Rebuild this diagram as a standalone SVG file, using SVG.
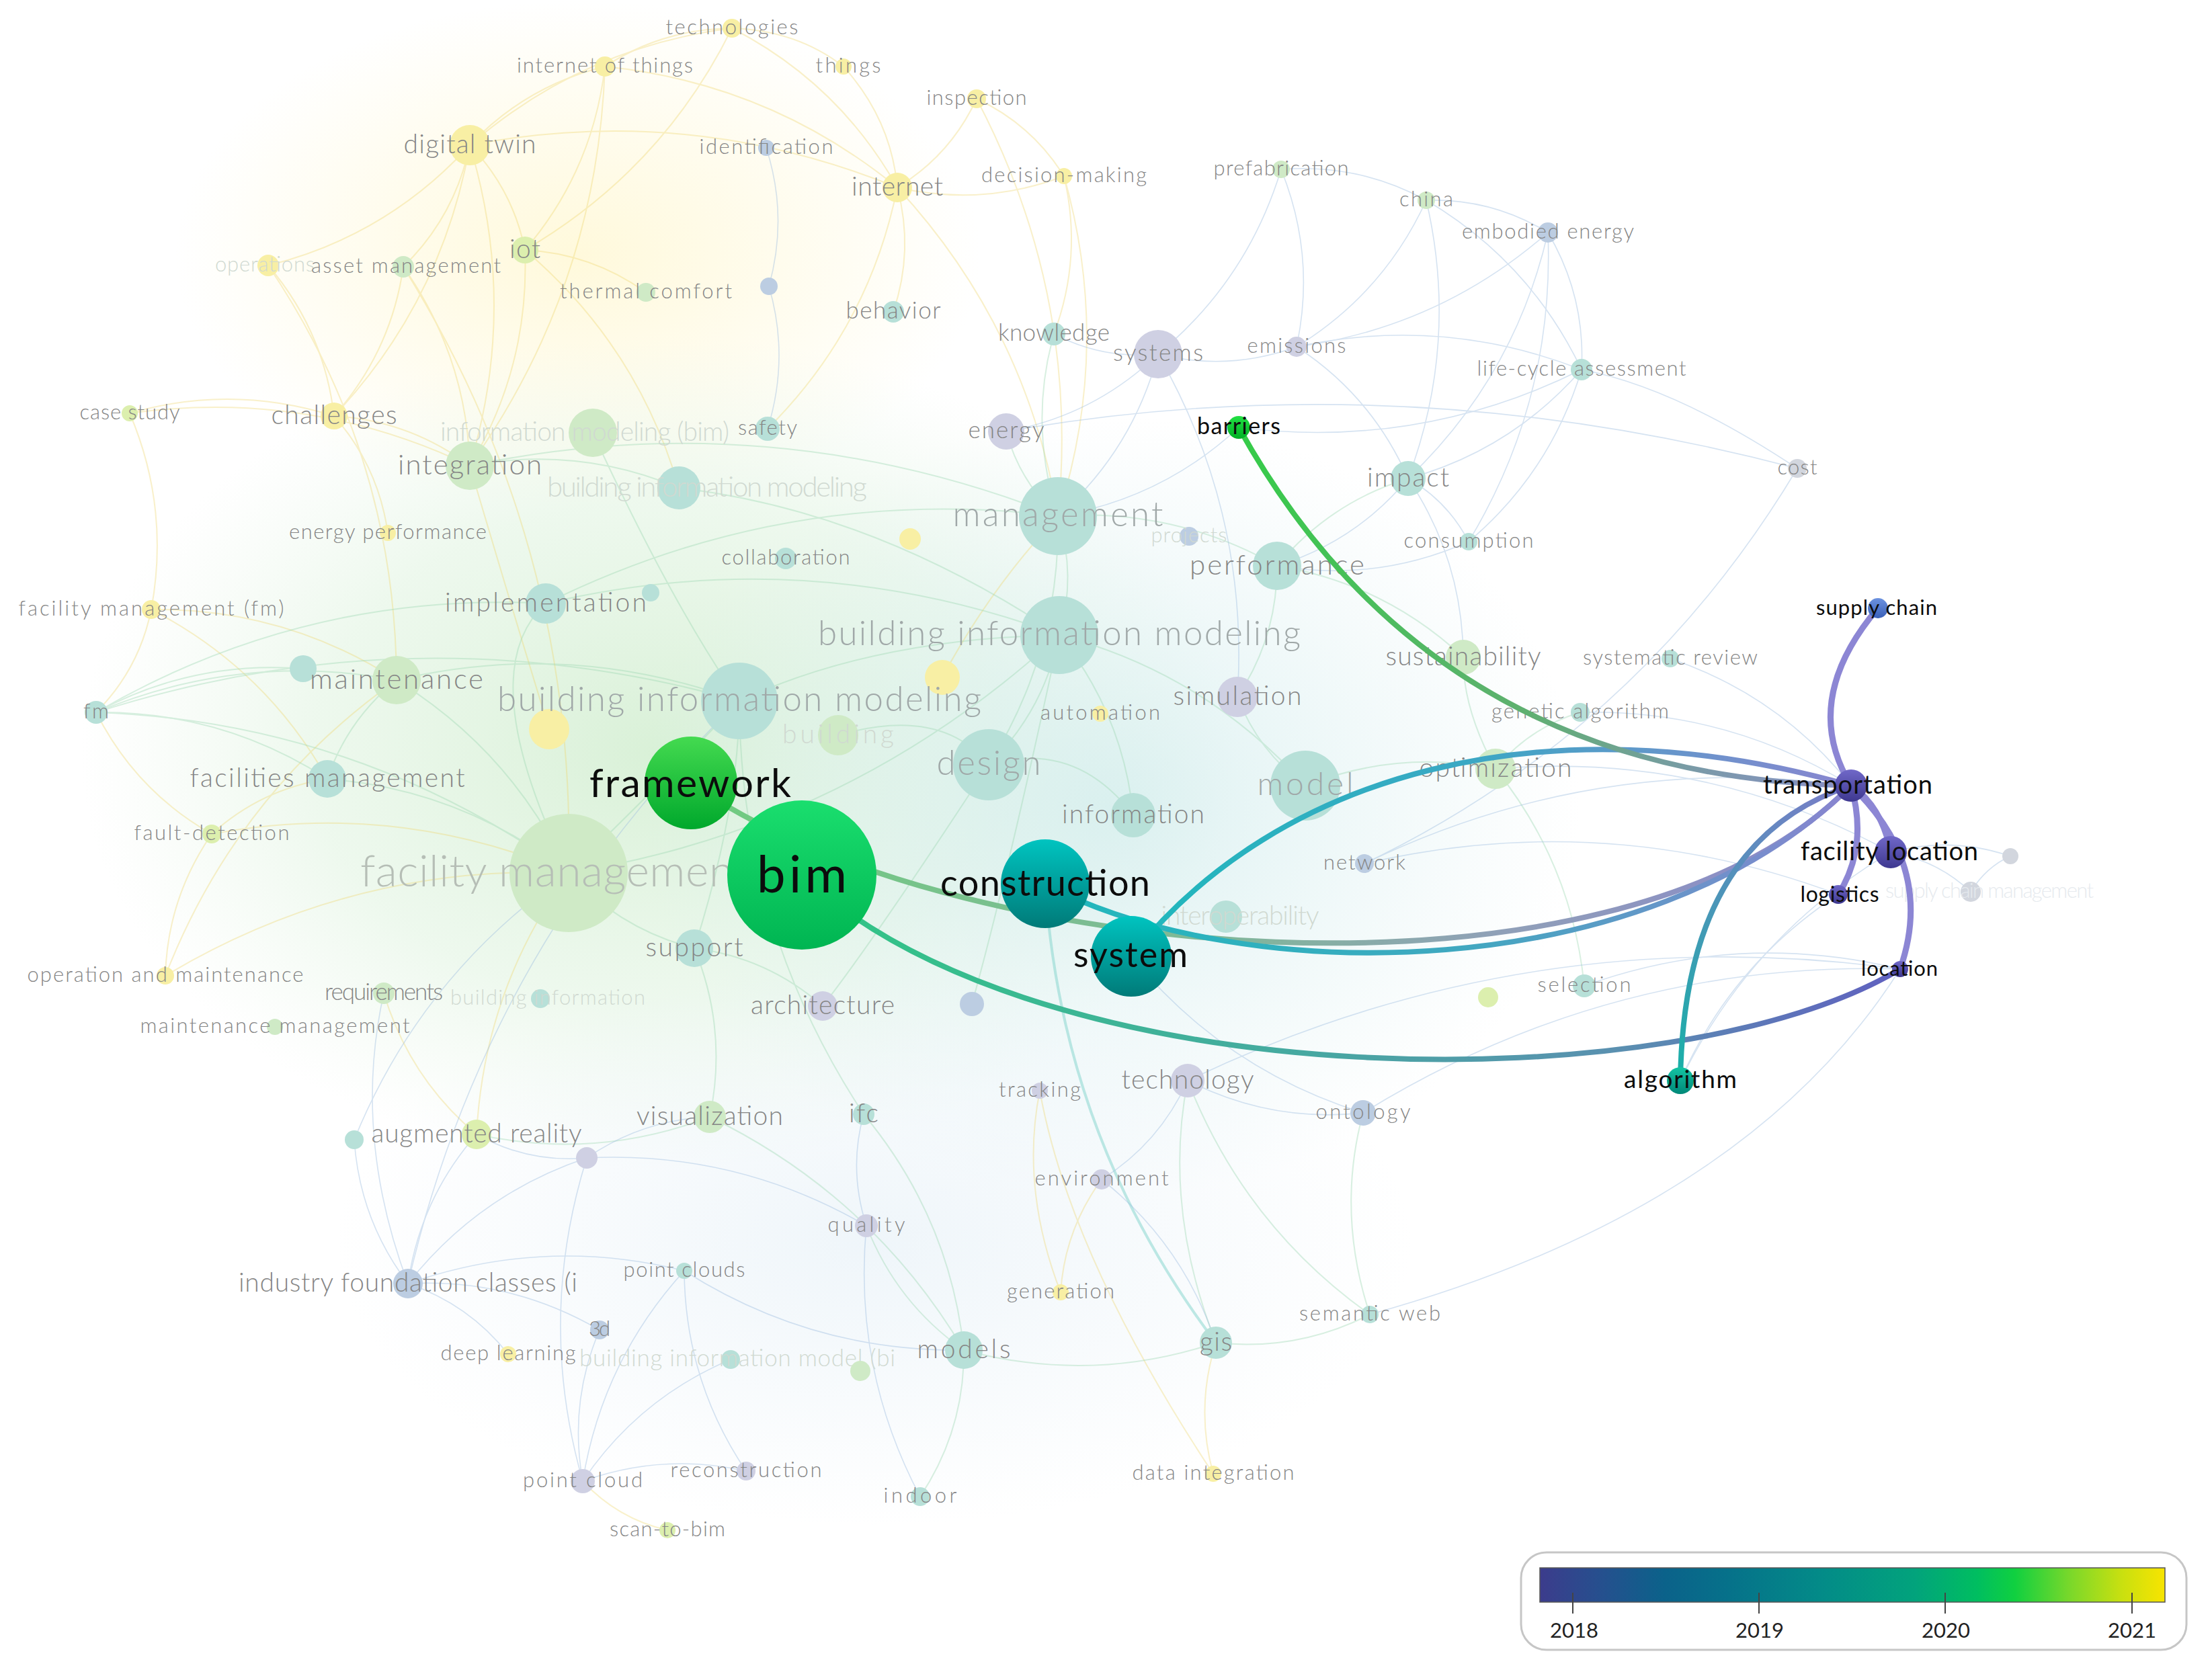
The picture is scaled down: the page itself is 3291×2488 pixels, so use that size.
<svg xmlns="http://www.w3.org/2000/svg" width="3291" height="2488" viewBox="0 0 3291 2488">
<defs>
<style>
.lb{font-family:Lato,"Liberation Sans",sans-serif;font-weight:300;fill:#858585;text-anchor:middle}
.lg{fill:#a0a8a8}
.lf{fill:#d0d9d1}
.lx{fill:#e6eaee}
.hl{font-family:Lato,"Liberation Sans",sans-serif;fill:#0c0c0c;text-anchor:middle}
.t1{font-size:31px}.t2{font-size:35px}.t3{font-size:39px}.t4{font-size:42px}.t5{font-size:51px}
.ny{fill:#f8efa4}.nyg{fill:#dcefae}.ng{fill:#cfeac6}.nt{fill:#b7e0d8}.np{fill:#cfd0e3}.nb{fill:#bccde2}.ngr{fill:#d2d6de}
.ey{fill:none;stroke:#efd66a;stroke-width:2;opacity:.35}
.eg{fill:none;stroke:#9fd9b4;stroke-width:2;opacity:.4}
.eb{fill:none;stroke:#9dbde0;stroke-width:1.6;opacity:.42}
.et{fill:none;stroke:#7fd3cc;stroke-width:4;opacity:.5}
.h{fill:none;stroke-width:8;stroke-linecap:round}
.hp{fill:none;stroke:#8c86d4;stroke-width:9;stroke-linecap:round}
.yr{font-family:Lato,"Liberation Sans",sans-serif;font-size:31px;fill:#222;text-anchor:middle}
</style>
<radialGradient id="wY"><stop offset="0" stop-color="#fff3b8" stop-opacity=".5"/><stop offset="1" stop-color="#fff3b8" stop-opacity="0"/></radialGradient>
<radialGradient id="wG"><stop offset="0" stop-color="#d2eed0" stop-opacity=".85"/><stop offset=".6" stop-color="#dcf2dc" stop-opacity=".5"/><stop offset="1" stop-color="#e4f4e4" stop-opacity="0"/></radialGradient>
<radialGradient id="wT"><stop offset="0" stop-color="#d0ecec" stop-opacity=".75"/><stop offset="1" stop-color="#d8eef0" stop-opacity="0"/></radialGradient>
<radialGradient id="wB"><stop offset="0" stop-color="#e2eef6" stop-opacity=".55"/><stop offset="1" stop-color="#e2eef6" stop-opacity="0"/></radialGradient>
<linearGradient id="gBim" x1="0" y1="0" x2="0" y2="1"><stop offset="0" stop-color="#1ade6e"/><stop offset="1" stop-color="#00b552"/></linearGradient>
<linearGradient id="gFw" x1="0" y1="0" x2="0" y2="1"><stop offset="0" stop-color="#44da50"/><stop offset="1" stop-color="#00a82c"/></linearGradient>
<linearGradient id="gCon" x1="0" y1="0" x2="0" y2="1"><stop offset="0" stop-color="#00c4c0"/><stop offset="1" stop-color="#007a78"/></linearGradient>
<linearGradient id="gBar" x1="0" y1="0" x2="0" y2="1"><stop offset="0" stop-color="#22e044"/><stop offset="1" stop-color="#00b024"/></linearGradient>
<linearGradient id="gPur" x1="0" y1="0" x2="0" y2="1"><stop offset="0" stop-color="#7068c8"/><stop offset="1" stop-color="#3e3890"/></linearGradient>
<linearGradient id="gSup" x1="0" y1="0" x2="0" y2="1"><stop offset="0" stop-color="#6c92e0"/><stop offset="1" stop-color="#3a60b8"/></linearGradient>
<linearGradient id="gAlg" x1="0" y1="0" x2="0" y2="1"><stop offset="0" stop-color="#14c4a4"/><stop offset="1" stop-color="#008878"/></linearGradient>
<linearGradient id="gH1" gradientUnits="userSpaceOnUse" x1="1843" y1="636" x2="2754" y2="1169"><stop offset="0" stop-color="#35cc48"/><stop offset=".55" stop-color="#5fb070"/><stop offset=".8" stop-color="#7a9aa8"/><stop offset="1" stop-color="#8a90c8"/></linearGradient>
<linearGradient id="gH2" gradientUnits="userSpaceOnUse" x1="1028" y1="1165" x2="2754" y2="1169"><stop offset="0" stop-color="#70cc80"/><stop offset=".45" stop-color="#80b898"/><stop offset=".7" stop-color="#90a0b8"/><stop offset="1" stop-color="#8a86cc"/></linearGradient>
<linearGradient id="gH3" gradientUnits="userSpaceOnUse" x1="1555" y1="1316" x2="2754" y2="1169"><stop offset="0" stop-color="#20b8bc"/><stop offset=".5" stop-color="#40a8c0"/><stop offset="1" stop-color="#8a84d0"/></linearGradient>
<linearGradient id="gH4" gradientUnits="userSpaceOnUse" x1="1683" y1="1423" x2="2754" y2="1169"><stop offset="0" stop-color="#1fb8bc"/><stop offset=".5" stop-color="#3aa8c4"/><stop offset="1" stop-color="#8a86d0"/></linearGradient>
<linearGradient id="gH5" gradientUnits="userSpaceOnUse" x1="2500" y1="1608" x2="2754" y2="1169"><stop offset="0" stop-color="#18b0a8"/><stop offset="1" stop-color="#7c7cc8"/></linearGradient>
<linearGradient id="gH6" gradientUnits="userSpaceOnUse" x1="1192" y1="1301" x2="2827" y2="1442"><stop offset="0" stop-color="#30c684"/><stop offset=".45" stop-color="#45aaa0"/><stop offset=".75" stop-color="#5a90b0"/><stop offset="1" stop-color="#6060c0"/></linearGradient>
<linearGradient id="gLeg" x1="0" y1="0" x2="1" y2="0"><stop offset="0" stop-color="#3c3c8c"/><stop offset=".1" stop-color="#25508e"/><stop offset=".2" stop-color="#0b628a"/><stop offset=".3" stop-color="#06718a"/><stop offset=".45" stop-color="#038b88"/><stop offset=".6" stop-color="#02a37c"/><stop offset=".7" stop-color="#00be60"/><stop offset=".76" stop-color="#10d040"/><stop offset=".85" stop-color="#7cd82a"/><stop offset=".93" stop-color="#c8e010"/><stop offset="1" stop-color="#f8e400"/></linearGradient>
</defs>
<rect width="3291" height="2488" fill="#ffffff"/>
<g id="wash">
<ellipse cx="860" cy="380" rx="600" ry="380" fill="url(#wY)"/>
<ellipse cx="980" cy="1120" rx="860" ry="620" fill="url(#wG)"/>
<ellipse cx="1650" cy="1200" rx="700" ry="580" fill="url(#wT)"/>
<ellipse cx="1300" cy="1850" rx="800" ry="420" fill="url(#wB)"/>
</g>
<g id="faded-connectors">
<g class="ey">
<path d="M699,216Q782,128 900,99"/><path d="M699,216Q763,282 781,372"/><path d="M699,216Q677,322 600,397"/><path d="M699,216Q576,351 399,395"/><path d="M699,216Q658,448 497,619"/><path d="M699,216Q771,455 699,693"/><path d="M699,216Q868,70 1089,42"/><path d="M699,216Q1026,153 1335,279"/><path d="M900,99Q986,43 1089,42"/><path d="M900,99Q882,254 781,372"/><path d="M900,99Q1145,124 1335,279"/><path d="M900,99Q889,426 699,693"/><path d="M1089,42Q1248,124 1335,279"/><path d="M1089,42Q1185,45 1255,99"/><path d="M1089,42Q985,253 781,372"/><path d="M1255,99Q1326,178 1335,279"/><path d="M1453,147Q1414,231 1335,279"/><path d="M1453,147Q1535,185 1583,262"/><path d="M1453,147Q1607,440 1574,768"/><path d="M1583,262Q1462,308 1335,279"/><path d="M1583,262Q1611,382 1568,497"/><path d="M1583,262Q1655,516 1574,768"/><path d="M1335,279Q1293,488 1142,638"/><path d="M1335,279Q1360,373 1329,464"/><path d="M1335,279Q1528,488 1574,768"/><path d="M399,395Q482,492 497,619"/><path d="M399,395Q588,675 590,1012"/><path d="M600,397Q582,523 497,619"/><path d="M600,397Q694,530 699,693"/><path d="M600,397Q858,811 846,1299"/><path d="M781,372Q880,377 961,435"/><path d="M781,372Q788,545 699,693"/><path d="M781,372Q949,515 1010,726"/><path d="M497,619Q609,626 699,693"/><path d="M497,619Q344,571 193,615"/><path d="M497,619Q563,694 577,793"/><path d="M193,615Q253,756 225,907"/><path d="M193,615Q458,578 699,693"/><path d="M225,907Q207,996 143,1060"/><path d="M225,907Q394,994 487,1159"/><path d="M225,907Q424,905 590,1012"/><path d="M246,1452Q249,1337 315,1241"/><path d="M246,1452Q523,1286 846,1299"/><path d="M246,1452Q352,1180 590,1012"/><path d="M315,1241Q590,1190 846,1299"/><path d="M315,1241Q389,1174 487,1159"/><path d="M315,1241Q202,1177 143,1060"/><path d="M1578,1923Q1518,1768 1547,1623"/><path d="M1805,2193Q1591,1869 1547,1623"/><path d="M1805,2193Q1778,2095 1809,1998"/><path d="M993,2277Q919,2260 867,2204"/><path d="M709,1688Q609,1604 571,1478"/><path d="M709,1688Q720,1473 846,1299"/><path d="M1578,1923Q1584,1830 1639,1755"/><path d="M817,1085Q760,900 699,693"/><path d="M1402,1008Q1470,880 1574,768"/>
</g>
<g class="eg">
<path d="M143,1060Q330,1058 487,1159"/><path d="M143,1060Q531,1074 846,1299"/><path d="M143,1060Q454,879 812,898"/><path d="M143,1060Q360,969 590,1012"/><path d="M143,1060Q619,908 1100,1043"/><path d="M143,1060Q287,982 451,995"/><path d="M487,1159Q688,1175 846,1299"/><path d="M487,1159Q517,1071 590,1012"/><path d="M812,898Q1174,719 1574,768"/><path d="M812,898Q1201,807 1576,945"/><path d="M590,1012Q761,1118 846,1299"/><path d="M590,1012Q850,951 1100,1043"/><path d="M699,693Q860,663 1010,726"/><path d="M699,693Q1148,600 1574,768"/><path d="M1574,768Q1602,857 1576,945"/><path d="M1574,768Q1517,717 1497,642"/><path d="M1574,768Q1530,632 1568,497"/><path d="M1574,768Q1748,756 1900,842"/><path d="M1574,768Q1578,968 1471,1138"/><path d="M1576,945Q1553,1058 1471,1138"/><path d="M1576,945Q1264,1232 846,1299"/><path d="M1576,945Q1793,1002 1942,1169"/><path d="M1576,945Q1671,1063 1686,1213"/><path d="M1900,842Q1900,949 1841,1037"/><path d="M1900,842Q2059,868 2177,978"/><path d="M1900,842Q1978,748 2095,712"/><path d="M1942,1169Q2080,1115 2225,1144"/><path d="M1942,1169Q1872,1118 1841,1037"/><path d="M2225,1144Q2176,1054 2177,978"/><path d="M2225,1144Q2275,1083 2351,1060"/><path d="M2225,1144Q2339,1286 2357,1467"/><path d="M1033,1411Q923,1383 846,1299"/><path d="M1033,1411Q1142,1425 1224,1497"/><path d="M1033,1411Q1083,1533 1056,1662"/><path d="M1285,1658Q1413,1812 1434,2009"/><path d="M1285,1658Q1101,1379 1100,1043"/><path d="M1056,1662Q887,1727 709,1688"/><path d="M1056,1662Q1297,1779 1434,2009"/><path d="M1809,1998Q1730,1797 1767,1608"/><path d="M1809,1998Q1624,2060 1434,2009"/><path d="M1434,2009Q1435,2128 1369,2227"/><path d="M1434,2009Q1334,1939 1289,1824"/><path d="M2038,1956Q1988,1804 2028,1656"/><path d="M2038,1956Q1930,2011 1809,1998"/><path d="M2038,1956Q1851,1823 1767,1608"/><path d="M846,1299Q1000,1150 1100,1043"/><path d="M1100,1043Q1300,950 1576,945"/><path d="M1010,726Q1300,760 1576,945"/><path d="M882,644Q1000,900 1100,1043"/><path d="M1247,1094Q1400,1050 1471,1138"/><path d="M1686,1213Q1600,1100 1471,1138"/><path d="M1224,1497Q1300,1400 1471,1138"/><path d="M1033,1411Q1100,1200 1100,1043"/><path d="M1446,1494Q1500,1300 1576,945"/><path d="M846,1299Q700,1000 812,898"/>
</g>
<path class="et" d="M1809,1998Q1580,1695 1555,1316"/>
<g class="eb">
<path d="M1906,252Q1958,381 1929,516"/><path d="M1906,252Q2021,243 2122,298"/><path d="M1906,252Q1856,417 1723,527"/><path d="M2122,298Q2059,436 1929,516"/><path d="M2122,298Q2220,295 2303,346"/><path d="M2122,298Q2276,389 2353,550"/><path d="M2122,298Q2171,509 2095,712"/><path d="M2303,346Q2359,441 2353,550"/><path d="M2303,346Q2254,560 2095,712"/><path d="M2303,346Q2313,594 2185,806"/><path d="M2303,346Q2142,487 1929,516"/><path d="M1929,516Q1828,553 1723,527"/><path d="M1929,516Q2041,589 2095,712"/><path d="M1929,516Q2146,469 2353,550"/><path d="M2353,550Q2248,670 2095,712"/><path d="M2353,550Q2307,703 2185,806"/><path d="M2353,550Q2111,670 1843,636"/><path d="M1723,527Q1627,619 1497,642"/><path d="M1723,527Q1685,670 1574,768"/><path d="M1723,527Q1859,764 1841,1037"/><path d="M1723,527Q1641,535 1568,497"/><path d="M2095,712Q2154,746 2185,806"/><path d="M2095,712Q2017,806 1900,842"/><path d="M2095,712Q2176,833 2177,978"/><path d="M2185,806Q2048,867 1900,842"/><path d="M1140,220Q1173,322 1144,426"/><path d="M1144,426Q1175,532 1142,638"/><path d="M1843,636Q1729,742 1574,768"/>
<path d="M2030,1285Q2375,1118 2754,1169"/><path d="M2030,1285Q2390,1202 2735,1331"/><path d="M2357,1467Q2588,1384 2827,1442"/><path d="M2351,1060Q2569,1055 2754,1169"/><path d="M2485,980Q2648,1035 2754,1169"/><path d="M2225,1144Q2538,1118 2813,1268"/><path d="M2500,1608Q2576,1435 2735,1331"/><path d="M2500,1608Q2606,1391 2813,1268"/><path d="M2813,1268Q2882,1280 2932,1327"/><path d="M2813,1268Q2903,1244 2991,1274"/><path d="M2932,1327Q2955,1290 2991,1274"/><path d="M1767,1608Q2272,1366 2827,1442"/><path d="M2028,1656Q2396,1429 2827,1442"/><path d="M2674,697Q2440,1088 2030,1285"/><path d="M2674,697Q2492,576 2353,550"/><path d="M2674,697Q2080,540 1497,642"/><path d="M2038,1956Q2600,1800 2827,1442"/>
<path d="M607,1910Q625,1784 709,1688"/><path d="M607,1910Q810,1839 1018,1891"/><path d="M607,1910Q760,1902 892,1979"/><path d="M607,1910Q535,1815 527,1696"/><path d="M607,1910Q712,1777 873,1723"/><path d="M607,1910Q724,1403 1100,1043"/><path d="M607,1910Q698,1941 756,2015"/><path d="M607,1910Q524,1689 571,1478"/><path d="M867,2204Q846,2088 892,1979"/><path d="M867,2204Q896,2025 1018,1891"/><path d="M867,2204Q987,2161 1110,2189"/><path d="M867,2204Q798,1963 873,1723"/><path d="M867,2204Q950,2081 1087,2023"/><path d="M873,1723Q956,1666 1056,1662"/><path d="M873,1723Q786,1731 709,1688"/><path d="M873,1723Q1096,1712 1289,1824"/><path d="M1110,2189Q1019,2054 1018,1891"/><path d="M1369,2227Q1269,2038 1289,1824"/><path d="M2028,1656Q1891,1671 1767,1608"/><path d="M2028,1656Q1820,1591 1683,1423"/><path d="M1767,1608Q1725,1701 1639,1755"/><path d="M1639,1755Q1760,1851 1809,1998"/><path d="M527,1696Q627,1450 846,1299"/><path d="M1289,1824Q1262,1740 1285,1658"/><path d="M1434,2009Q1208,2012 1018,1891"/>
</g>
</g>
<g id="n-technologies"><circle class="ny" cx="1089" cy="42" r="14"/><text class="lb t1" x="1089" y="51" textLength="197">technologies</text></g>
<g id="n-internet-of-things"><circle class="ny" cx="900" cy="99" r="15"/><text class="lb t1" x="900" y="108" textLength="262">internet of things</text></g>
<g id="n-things"><circle class="ny" cx="1255" cy="99" r="12"/><text class="lb t1" x="1262" y="108" textLength="97">things</text></g>
<g id="n-inspection"><circle class="ny" cx="1453" cy="147" r="14"/><text class="lb t1" x="1453" y="156" textLength="149">inspection</text></g>
<g id="n-digital-twin"><circle class="ny" cx="699" cy="216" r="30"/><text class="lb t3" x="699" y="228" textLength="197">digital twin</text></g>
<g id="n-identification"><circle class="nb" cx="1140" cy="220" r="12"/><text class="lb t1" x="1140" y="229" textLength="199">identification</text></g>
<g id="n-internet"><circle class="ny" cx="1335" cy="279" r="22"/><text class="lb t3" x="1335" y="291" textLength="136">internet</text></g>
<g id="n-decision-making"><circle class="ny" cx="1583" cy="262" r="12"/><text class="lb t1" x="1583" y="271" textLength="246">decision-making</text></g>
<g id="n-prefabrication"><circle class="ng" cx="1906" cy="252" r="13"/><text class="lb t1" x="1906" y="261" textLength="201">prefabrication</text></g>
<g id="n-china"><circle class="ng" cx="2122" cy="298" r="13"/><text class="lb t1" x="2122" y="307" textLength="80">china</text></g>
<g id="n-embodied-energy"><circle class="nb" cx="2303" cy="346" r="15"/><text class="lb t1" x="2303" y="355" textLength="256">embodied energy</text></g>
<g id="n-operations"><circle class="ny" cx="399" cy="395" r="16"/><text class="lb lf t1" x="394" y="404" textLength="148">operations</text></g>
<g id="n-asset-management"><circle class="ng" cx="600" cy="397" r="16"/><text class="lb t1" x="604" y="406" textLength="282">asset management</text></g>
<g id="n-iot"><circle class="nyg" cx="781" cy="372" r="20"/><text class="lb t3" x="781" y="384" textLength="46">iot</text></g>
<g id="n-thermal-comfort"><circle class="ng" cx="961" cy="435" r="14"/><text class="lb t1" x="961" y="444" textLength="256">thermal comfort</text></g>
<g id="n-u1"><circle class="nb" cx="1144" cy="426" r="13"/></g>
<g id="n-behavior"><circle class="nt" cx="1329" cy="464" r="16"/><text class="lb t2" x="1329" y="474" textLength="141">behavior</text></g>
<g id="n-knowledge"><circle class="nt" cx="1568" cy="497" r="17"/><text class="lb t2" x="1568" y="507" textLength="166">knowledge</text></g>
<g id="n-systems"><circle class="np" cx="1723" cy="527" r="36"/><text class="lb t2" x="1723" y="537" textLength="134">systems</text></g>
<g id="n-emissions"><circle class="np" cx="1929" cy="516" r="15"/><text class="lb t1" x="1929" y="525" textLength="147">emissions</text></g>
<g id="n-life-cycle-assessment"><circle class="nt" cx="2353" cy="550" r="16"/><text class="lb t1" x="2353" y="559" textLength="311">life-cycle assessment</text></g>
<g id="n-case-study"><circle class="nyg" cx="193" cy="615" r="12"/><text class="lb t1" x="193" y="624" textLength="149">case study</text></g>
<g id="n-challenges"><circle class="ny" cx="497" cy="619" r="20"/><text class="lb t3" x="497" y="631" textLength="187">challenges</text></g>
<g id="n-information-modeling-bim"><circle class="ng" cx="882" cy="644" r="36"/><text class="lb lf t3" x="870" y="656" textLength="430">information modeling (bim)</text></g>
<g id="n-safety"><circle class="nt" cx="1142" cy="638" r="18"/><text class="lb t1" x="1142" y="647" textLength="88">safety</text></g>
<g id="n-energy"><circle class="np" cx="1497" cy="642" r="27"/><text class="lb t2" x="1497" y="652" textLength="113">energy</text></g>
<g id="n-integration"><circle class="ng" cx="699" cy="693" r="36"/><text class="lb t4" x="699" y="706" textLength="214">integration</text></g>
<g id="n-bim-modeling-1"><circle class="nt" cx="1010" cy="726" r="32"/><text class="lb lf t4" x="1052" y="739" textLength="476">building information modeling</text></g>
<g id="n-cost"><circle class="ngr" cx="2674" cy="697" r="14"/><text class="lb t1" x="2674" y="706" textLength="59">cost</text></g>
<g id="n-impact"><circle class="nt" cx="2095" cy="712" r="26"/><text class="lb t3" x="2095" y="724" textLength="122">impact</text></g>
<g id="n-management"><circle class="nt" cx="1574" cy="768" r="58"/><text class="lb lg t5" x="1574" y="783" textLength="313">management</text></g>
<g id="n-projects"><circle class="nb" cx="1769" cy="798" r="14"/><text class="lb lf t1" x="1769" y="807" textLength="113">projects</text></g>
<g id="n-u2"><circle class="ny" cx="1354" cy="802" r="16"/></g>
<g id="n-energy-performance"><circle class="ny" cx="577" cy="793" r="12"/><text class="lb t1" x="577" y="802" textLength="294">energy performance</text></g>
<g id="n-consumption"><circle class="nt" cx="2185" cy="806" r="13"/><text class="lb t1" x="2185" y="815" textLength="193">consumption</text></g>
<g id="n-collaboration"><circle class="nt" cx="1169" cy="831" r="16"/><text class="lb t1" x="1169" y="840" textLength="191">collaboration</text></g>
<g id="n-performance"><circle class="nt" cx="1900" cy="842" r="36"/><text class="lb t4" x="1900" y="855" textLength="260">performance</text></g>
<g id="n-facility-management-fm"><circle class="ny" cx="225" cy="907" r="14"/><text class="lb t1" x="225" y="916" textLength="395">facility management (fm)</text></g>
<g id="n-implementation"><circle class="nt" cx="812" cy="898" r="30"/><text class="lb t3" x="812" y="910" textLength="300">implementation</text></g>
<g id="n-u3"><circle class="nt" cx="968" cy="882" r="13"/></g>
<g id="n-bim-modeling-2"><circle class="nt" cx="1576" cy="945" r="58"/><text class="lb lg t5" x="1576" y="960" textLength="718">building information modeling</text></g>
<g id="n-sustainability"><circle class="ng" cx="2177" cy="978" r="26"/><text class="lb t3" x="2177" y="990" textLength="231">sustainability</text></g>
<g id="n-systematic-review"><circle class="nt" cx="2485" cy="980" r="13"/><text class="lb t1" x="2485" y="989" textLength="260">systematic review</text></g>
<g id="n-u4"><circle class="nt" cx="451" cy="995" r="20"/></g>
<g id="n-maintenance"><circle class="ng" cx="590" cy="1012" r="36"/><text class="lb t4" x="590" y="1025" textLength="258">maintenance</text></g>
<g id="n-fm"><circle class="nt" cx="143" cy="1060" r="17"/><text class="lb t1" x="143" y="1069" textLength="38">fm</text></g>
<g id="n-u5"><circle class="ny" cx="1402" cy="1008" r="26"/></g>
<g id="n-u6"><circle class="ny" cx="817" cy="1085" r="30"/></g>
<g id="n-bim-modeling-3"><circle class="nt" cx="1100" cy="1043" r="57"/><text class="lb lg t5" x="1100" y="1058" textLength="720">building information modeling</text></g>
<g id="n-simulation"><circle class="np" cx="1841" cy="1037" r="30"/><text class="lb t3" x="1841" y="1049" textLength="191">simulation</text></g>
<g id="n-automation"><circle class="ny" cx="1637" cy="1062" r="12"/><text class="lb t1" x="1637" y="1071" textLength="178">automation</text></g>
<g id="n-genetic-algorithm"><circle class="nt" cx="2351" cy="1060" r="14"/><text class="lb t1" x="2351" y="1069" textLength="264">genetic algorithm</text></g>
<g id="n-building"><circle class="ng" cx="1247" cy="1094" r="30"/><text class="lb lf t3" x="1247" y="1106" textLength="166">building</text></g>
<g id="n-design"><circle class="nt" cx="1471" cy="1138" r="53"/><text class="lb lg t5" x="1471" y="1153" textLength="155">design</text></g>
<g id="n-facilities-management"><circle class="nt" cx="487" cy="1159" r="28"/><text class="lb t3" x="487" y="1171" textLength="409">facilities management</text></g>
<g id="n-information"><circle class="nt" cx="1686" cy="1213" r="33"/><text class="lb t3" x="1686" y="1225" textLength="212">information</text></g>
<g id="n-model"><circle class="nt" cx="1942" cy="1169" r="52"/><text class="lb lg" style="font-size:48px" x="1942" y="1183" textLength="143">model</text></g>
<g id="n-optimization"><circle class="ng" cx="2225" cy="1144" r="30"/><text class="lb t3" x="2225" y="1156" textLength="227">optimization</text></g>
<g id="n-fault-detection"><circle class="nyg" cx="315" cy="1241" r="14"/><text class="lb t1" x="315" y="1250" textLength="231">fault-detection</text></g>
<g id="n-facility-management"><circle class="ng" cx="846" cy="1299" r="88"/><text class="lb" style="font-size:66px;fill:#b6beb6" x="825" y="1319" textLength="578">facility management</text></g>
<g id="n-network"><circle class="nb" cx="2030" cy="1285" r="14"/><text class="lb t1" x="2030" y="1294" textLength="122">network</text></g>
<g id="n-u7"><circle class="ngr" cx="2991" cy="1274" r="12"/></g>
<g id="n-supply-chain-management"><circle class="ngr" cx="2932" cy="1327" r="15"/><text class="lb lx t1" x="2960" y="1336" textLength="310">supply chain management</text></g>
<g id="n-interoperability"><circle class="nt" cx="1824" cy="1364" r="24"/><text class="lb lf t3" x="1845" y="1376" textLength="235">interoperability</text></g>
<g id="n-support"><circle class="nt" cx="1033" cy="1411" r="28"/><text class="lb t3" x="1033" y="1423" textLength="145">support</text></g>
<g id="n-operation-and-maintenance"><circle class="ny" cx="246" cy="1452" r="13"/><text class="lb t1" x="246" y="1461" textLength="411">operation and maintenance</text></g>
<g id="n-requirements"><circle class="ng" cx="571" cy="1478" r="16"/><text class="lb t2" x="571" y="1488" textLength="176">requirements</text></g>
<g id="n-building-information"><circle class="nt" cx="804" cy="1486" r="14"/><text class="lb lf t1" x="815" y="1495" textLength="290">building information</text></g>
<g id="n-architecture"><circle class="np" cx="1224" cy="1497" r="22"/><text class="lb t3" x="1224" y="1509" textLength="214">architecture</text></g>
<g id="n-u8"><circle class="nb" cx="1446" cy="1494" r="18"/></g>
<g id="n-selection"><circle class="nt" cx="2357" cy="1467" r="17"/><text class="lb t1" x="2357" y="1476" textLength="139">selection</text></g>
<g id="n-u9"><circle class="nyg" cx="2214" cy="1484" r="15"/></g>
<g id="n-maintenance-management"><circle class="ng" cx="409" cy="1528" r="12"/><text class="lb t1" x="409" y="1537" textLength="401">maintenance management</text></g>
<g id="n-technology"><circle class="np" cx="1767" cy="1608" r="25"/><text class="lb t3" x="1767" y="1620" textLength="197">technology</text></g>
<g id="n-tracking"><circle class="np" cx="1547" cy="1623" r="12"/><text class="lb t1" x="1547" y="1632" textLength="122">tracking</text></g>
<g id="n-ontology"><circle class="nb" cx="2028" cy="1656" r="19"/><text class="lb t1" x="2028" y="1665" textLength="141">ontology</text></g>
<g id="n-augmented-reality"><circle class="nyg" cx="709" cy="1688" r="22"/><text class="lb t3" x="709" y="1700" textLength="313">augmented reality</text></g>
<g id="n-u10"><circle class="nt" cx="527" cy="1696" r="14"/></g>
<g id="n-u11"><circle class="np" cx="873" cy="1723" r="16"/></g>
<g id="n-visualization"><circle class="ng" cx="1056" cy="1662" r="24"/><text class="lb t3" x="1056" y="1674" textLength="218">visualization</text></g>
<g id="n-ifc"><circle class="nt" cx="1285" cy="1658" r="16"/><text class="lb t3" x="1285" y="1670" textLength="44">ifc</text></g>
<g id="n-environment"><circle class="np" cx="1639" cy="1755" r="15"/><text class="lb t1" x="1639" y="1764" textLength="199">environment</text></g>
<g id="n-quality"><circle class="np" cx="1289" cy="1824" r="17"/><text class="lb t1" x="1289" y="1833" textLength="115">quality</text></g>
<g id="n-industry-foundation-classes"><circle class="nb" cx="607" cy="1910" r="22"/><text class="lb t3" x="607" y="1922" textLength="504">industry foundation classes (i</text></g>
<g id="n-point-clouds"><circle class="nt" cx="1018" cy="1891" r="12"/><text class="lb t1" x="1018" y="1900" textLength="181">point clouds</text></g>
<g id="n-generation"><circle class="ny" cx="1578" cy="1923" r="12"/><text class="lb t1" x="1578" y="1932" textLength="160">generation</text></g>
<g id="n-semantic-web"><circle class="nt" cx="2038" cy="1956" r="13"/><text class="lb t1" x="2038" y="1965" textLength="210">semantic web</text></g>
<g id="n-3d"><circle class="nb" cx="892" cy="1979" r="14"/><text class="lb t1" x="892" y="1988" textLength="32">3d</text></g>
<g id="n-gis"><circle class="nt" cx="1809" cy="1998" r="24"/><text class="lb t3" x="1809" y="2010" textLength="48">gis</text></g>
<g id="n-models"><circle class="nt" cx="1434" cy="2009" r="28"/><text class="lb t3" x="1434" y="2021" textLength="139">models</text></g>
<g id="n-deep-learning"><circle class="ny" cx="756" cy="2015" r="12"/><text class="lb t1" x="756" y="2024" textLength="201">deep learning</text></g>
<g id="n-building-information-model"><circle class="nt" cx="1087" cy="2023" r="14"/><text class="lb lf t2" x="1097" y="2033" textLength="470">building information model (bi</text></g>
<g id="n-u12"><circle class="ng" cx="1280" cy="2040" r="15"/></g>
<g id="n-point-cloud"><circle class="np" cx="867" cy="2204" r="18"/><text class="lb t1" x="867" y="2213" textLength="178">point cloud</text></g>
<g id="n-reconstruction"><circle class="np" cx="1110" cy="2189" r="14"/><text class="lb t1" x="1110" y="2198" textLength="225">reconstruction</text></g>
<g id="n-indoor"><circle class="nt" cx="1369" cy="2227" r="14"/><text class="lb t1" x="1369" y="2236" textLength="109">indoor</text></g>
<g id="n-data-integration"><circle class="ny" cx="1805" cy="2193" r="12"/><text class="lb t1" x="1805" y="2202" textLength="241">data integration</text></g>
<g id="n-scan-to-bim"><circle class="nyg" cx="993" cy="2277" r="12"/><text class="lb t1" x="993" y="2286" textLength="172">scan-to-bim</text></g>
<g id="connectors">
<path class="h" stroke="url(#gH2)" d="M1028,1165C1400,1430 2400,1530 2754,1169"/>
<path class="h" stroke="url(#gH3)" d="M1555,1316C1850,1470 2450,1470 2754,1169"/>
<path class="h" stroke="url(#gH6)" d="M1192,1301C1550,1640 2500,1640 2827,1442"/>
<path class="h" stroke="url(#gH4)" d="M1683,1423C1900,1150 2300,1040 2754,1169"/>
<path class="h" stroke="url(#gH1)" d="M1843,636Q2132,1157 2754,1169"/>
<path class="h" stroke="url(#gH5)" d="M2500,1608Q2505,1250 2754,1169"/>
<path class="hp" d="M2794,905Q2677,1043 2754,1169"/>
<path class="hp" d="M2754,1169Q2800,1200 2813,1268"/>
<path class="hp" d="M2754,1169Q2780,1260 2735,1331"/>
<path class="hp" d="M2754,1169Q2880,1290 2827,1442"/>
</g>
<g id="n-barriers"><circle cx="1843" cy="636" r="17" fill="url(#gBar)"/><text class="hl" style="font-size:34px" x="1843" y="646" textLength="124">barriers</text></g>
<g id="n-supply-chain"><circle cx="2794" cy="905" r="15" fill="url(#gSup)"/><text class="hl" style="font-size:31px" x="2792" y="915" textLength="180">supply chain</text></g>
<g id="n-framework"><circle cx="1028" cy="1165" r="69" fill="url(#gFw)"/><text class="hl" style="font-size:59px" x="1027" y="1186" textLength="300">framework</text></g>
<g id="n-bim"><circle cx="1193" cy="1302" r="111" fill="url(#gBim)"/><text class="hl" style="font-size:76px" x="1193" y="1328" textLength="134">bim</text></g>
<g id="n-construction"><circle cx="1555" cy="1315" r="66" fill="url(#gCon)"/><text class="hl" style="font-size:54px" x="1555" y="1333" textLength="312">construction</text></g>
<g id="n-system"><circle cx="1683" cy="1423" r="60" fill="url(#gCon)"/><text class="hl" style="font-size:52px" x="1682" y="1439" textLength="170">system</text></g>
<g id="n-transportation"><circle cx="2754" cy="1169" r="24" fill="url(#gPur)"/><text class="hl" style="font-size:38px" x="2749" y="1181" textLength="252">transportation</text></g>
<g id="n-facility-location"><circle cx="2813" cy="1268" r="24" fill="url(#gPur)"/><text class="hl" style="font-size:38px" x="2811" y="1280" textLength="264">facility location</text></g>
<g id="n-logistics"><circle cx="2735" cy="1331" r="14" fill="url(#gPur)"/><text class="hl" style="font-size:32px" x="2737" y="1342" textLength="117">logistics</text></g>
<g id="n-location"><circle cx="2827" cy="1442" r="12" fill="url(#gPur)"/><text class="hl" style="font-size:31px" x="2826" y="1452" textLength="114">location</text></g>
<g id="n-algorithm"><circle cx="2500" cy="1608" r="20" fill="url(#gAlg)"/><text class="hl" style="font-size:37px" x="2500" y="1619" textLength="168">algorithm</text></g>
<g id="legend">
<rect x="2263" y="2310" width="990" height="145" rx="38" fill="#ffffff" stroke="#c6c6c6" stroke-width="3"/>
<rect x="2291" y="2333" width="930" height="51" fill="url(#gLeg)" stroke="#555" stroke-width="1.5"/>
<path d="M2340,2370V2401M2617,2370V2401M2894,2370V2401M3172,2370V2401" stroke="#444" stroke-width="2"/>
<text class="yr" x="2342" y="2437">2018</text>
<text class="yr" x="2618" y="2437">2019</text>
<text class="yr" x="2895" y="2437">2020</text>
<text class="yr" x="3172" y="2437">2021</text>
</g>
</svg>
